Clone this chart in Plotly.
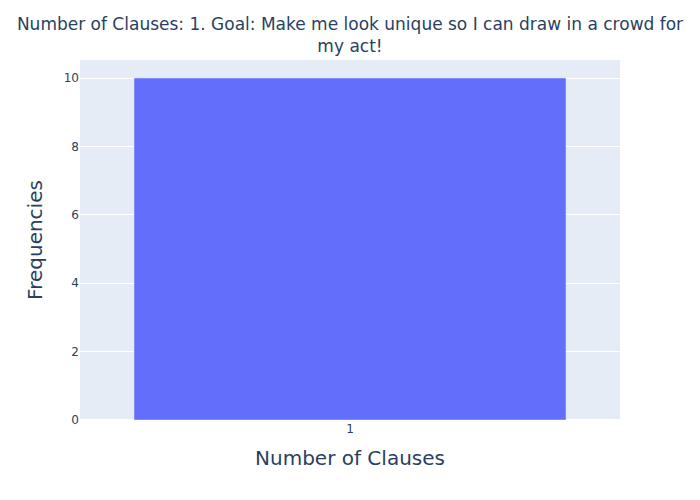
import plotly.graph_objects as go

categories = ["1"]
frequencies = [10]

fig = go.Figure(go.Bar(x=categories, y=frequencies, marker_color="#636efa"))
fig.update_layout(
    width=700, height=500,
    font=dict(family="DejaVu Sans"),
    title=dict(text="Number of Clauses: 1. Goal: Make me look unique so I can draw in a crowd for<br>my act!",
               x=0.5, xanchor="center", font=dict(size=17)),
    margin=dict(l=80, r=80, t=60, b=80),
    xaxis=dict(title=dict(text="Number of Clauses", font=dict(size=20)), type="category"),
    yaxis=dict(title=dict(text="Frequencies", font=dict(size=20))),
)
fig.write_html("out.html")
